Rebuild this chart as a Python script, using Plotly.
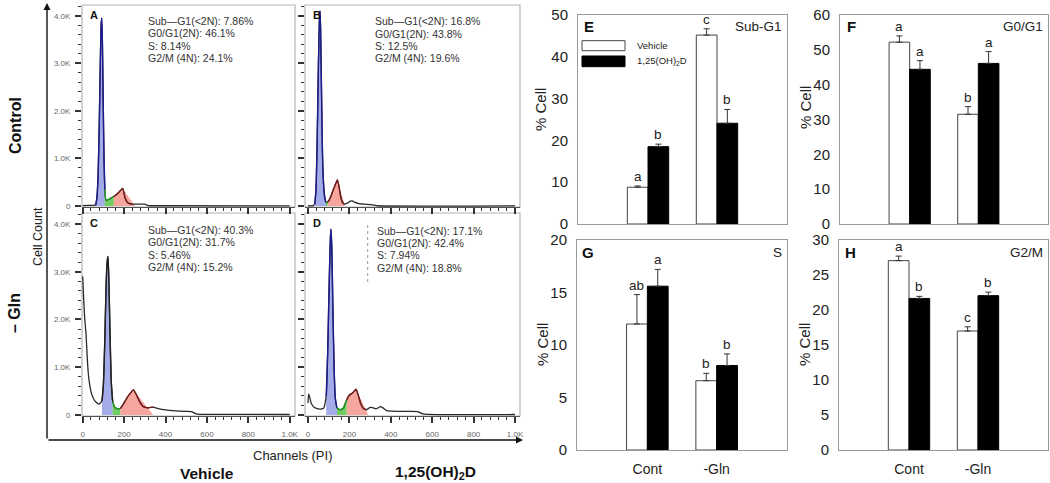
import plotly.graph_objects as go

W, H = 1050, 483
FONT = "Arial, Liberation Sans, sans-serif"

# ---------------- Flow cytometry histograms (channel, cell count) ----------------
ch_A = [0, 30, 55, 62, 68, 74, 80, 85, 89, 92, 95, 99, 103, 107, 111, 116, 130, 145, 150, 160, 175, 193, 204, 215, 225, 240, 300, 315, 350, 1000]
cnt_A = [10, 12, 15, 20, 150, 600, 1700, 3000, 3800, 3950, 3500, 2200, 1000, 350, 140, 120, 150, 190, 200, 230, 290, 370, 180, 80, 50, 40, 38, 10, 5, 3]
ch_B = [0, 25, 32, 38, 44, 50, 55, 58, 61, 65, 70, 76, 82, 87, 92, 95, 100, 110, 120, 132, 142, 150, 158, 166, 175, 190, 205, 214, 225, 245, 270, 300, 320, 335, 1000]
cnt_B = [5, 8, 40, 300, 1300, 2900, 3900, 4100, 3700, 2500, 1100, 400, 150, 80, 70, 90, 110, 200, 320, 450, 550, 400, 200, 80, 40, 60, 100, 105, 80, 50, 40, 30, 20, 5, 3]
ch_C = [0, 5, 10, 16, 22, 27, 35, 42, 55, 66, 80, 93, 100, 107, 113, 118, 122, 126, 132, 138, 145, 155, 170, 182, 195, 210, 225, 245, 260, 275, 293, 315, 340, 360, 400, 450, 500, 525, 545, 570, 700, 1000]
cnt_C = [2900, 2400, 2000, 1700, 1200, 870, 600, 455, 320, 260, 230, 300, 650, 1600, 2700, 3200, 3320, 2900, 1700, 700, 280, 160, 130, 140, 220, 330, 430, 525, 420, 280, 175, 150, 165, 140, 105, 85, 75, 70, 30, 15, 12, 10]
ch_D = [0, 3, 8, 15, 26, 40, 58, 75, 88, 95, 102, 108, 111, 115, 120, 126, 132, 140, 155, 170, 187, 200, 215, 232, 245, 256, 270, 283, 300, 312, 330, 350, 362, 380, 400, 500, 530, 550, 580, 1000]
cnt_D = [250, 440, 380, 250, 175, 140, 125, 140, 400, 1300, 2700, 3700, 3890, 3500, 2300, 1000, 350, 150, 110, 140, 320, 420, 460, 540, 380, 220, 130, 110, 160, 155, 130, 175, 150, 90, 80, 75, 70, 30, 15, 10]

# G2/M model fill (channel, count)
g2_ch_A = [150, 165, 180, 193, 223, 253]
g2_cnt_A = [200, 250, 310, 370, 185, 0]
g2_ch_B = [95, 110, 120, 132, 142, 160, 178]
g2_cnt_B = [90, 200, 320, 450, 550, 275, 0]
g2_ch_C = [182, 195, 210, 225, 245, 293, 341]
g2_cnt_C = [140, 220, 330, 430, 525, 262, 0]
g2_ch_D = [187, 200, 215, 232, 262, 291]
g2_cnt_D = [320, 420, 460, 540, 270, 0]

# gate limits (G1 start, G1 end / S start, S end)
gates_A = [62, 107, 150]
gates_B = [32, 87, 95]
gates_C = [93, 145, 182]
gates_D = [88, 140, 187]

stats_A = ["Sub\u2014G1(<2N): 7.86%", "G0/G1(2N): 46.1%", "S: 8.14%", "G2/M (4N): 24.1%"]
stats_B = ["Sub\u2014G1(<2N): 16.8%", "G0/G1(2N): 43.8%", "S: 12.5%", "G2/M (4N): 19.6%"]
stats_C = ["Sub\u2014G1(<2N): 40.3%", "G0/G1(2N): 31.7%", "S: 5.46%", "G2/M (4N): 15.2%"]
stats_D = ["Sub\u2014G1(<2N): 17.1%", "G0/G1(2N): 42.4%", "S: 7.94%", "G2/M (4N): 18.8%"]

hist_xticks = [0, 200, 400, 600, 800, 1000]
hist_xticktext = ["0", "200", "400", "600", "800", "1.0K"]
hist_yticks = [0, 1000, 2000, 3000, 4000]
hist_yticktext = ["0", "1.0K", "2.0K", "3.0K", "4.0K"]

# ---------------- Bar charts ----------------
categories = ["Cont", "-Gln"]
subg1_vehicle = [8.8, 45.2]
subg1_vehicle_err = [0.3, 1.5]
subg1_vitd = [18.5, 24.1]
subg1_vitd_err = [0.6, 3.3]
subg1_letters = [["a", "c"], ["b", "b"]]

g0g1_vehicle = [52.2, 31.5]
g0g1_vehicle_err = [1.8, 2.2]
g0g1_vitd = [44.4, 46.1]
g0g1_vitd_err = [2.5, 3.4]
g0g1_letters = [["a", "b"], ["a", "a"]]

s_vehicle = [12.0, 6.6]
s_vehicle_err = [2.8, 0.7]
s_vitd = [15.6, 8.05]
s_vitd_err = [1.6, 1.1]
s_letters = [["ab", "b"], ["a", "b"]]

g2m_vehicle = [27.05, 17.0]
g2m_vehicle_err = [0.65, 0.6]
g2m_vitd = [21.65, 22.05]
g2m_vitd_err = [0.3, 0.5]
g2m_letters = [["a", "c"], ["b", "b"]]


def fx(x):
    return x / W


def fy(y):
    return 1 - y / H


fig = go.Figure()
annotations = []
shapes = []


def ann(text, x, y, size=11, bold=False, color="#222", xanchor="center", yanchor="middle", angle=0):
    if bold:
        text = "<b>" + text + "</b>"
    annotations.append(dict(text=text, x=fx(x), y=fy(y), xref="paper", yref="paper",
                            showarrow=False, xanchor=xanchor, yanchor=yanchor, textangle=angle,
                            font=dict(family=FONT, size=size, color=color)))


def segment(xs, ys, lo, hi):
    sx, sy = [], []
    for a, b in zip(xs, ys):
        if lo <= a <= hi:
            sx.append(a)
            sy.append(b)
    return sx, sy


hist_panels = [
    ("A", ch_A, cnt_A, g2_ch_A, g2_cnt_A, gates_A, stats_A, (82, 295, 5, 207), (-3.4, 1025.6), (-21, 4225), "#1c1c8f", (146, 21)),
    ("B", ch_B, cnt_B, g2_ch_B, g2_cnt_B, gates_B, stats_B, (305, 520, 5, 207), (-14.5, 1024), (-21, 4225), "#1c1c8f", (372.7, 21.5)),
    ("C", ch_C, cnt_C, g2_ch_C, g2_cnt_C, gates_C, stats_C, (82, 295, 213, 416), (-3.4, 1025.6), (-21, 4230), "#222222", (146, 230)),
    ("D", ch_D, cnt_D, g2_ch_D, g2_cnt_D, gates_D, stats_D, (305, 520, 213, 416), (-14.5, 1024), (-21, 4230), "#1c1c8f", (375, 230.7)),
]

layout_axes = {}
for i, (lab, xs, ys, gx, gy, gates, stats, box, xr, yr, peakcol, tpos) in enumerate(hist_panels):
    n = i + 1
    xa = "x" if n == 1 else "x%d" % n
    ya = "y" if n == 1 else "y%d" % n
    g1lo, g1hi, shi = gates
    bx, by = segment(xs, ys, g1lo, g1hi)
    fig.add_trace(go.Scatter(x=bx, y=by, xaxis=xa, yaxis=ya, mode="lines", line=dict(width=0),
                             fill="tozeroy", fillcolor="rgba(140,150,228,0.8)", hoverinfo="skip"))
    sx, sy = segment(xs, ys, g1hi, shi)
    fig.add_trace(go.Scatter(x=sx, y=sy, xaxis=xa, yaxis=ya, mode="lines", line=dict(width=0),
                             fill="tozeroy", fillcolor="rgba(95,200,80,0.9)", hoverinfo="skip"))
    fig.add_trace(go.Scatter(x=gx, y=gy, xaxis=xa, yaxis=ya, mode="lines", line=dict(width=0),
                             fill="tozeroy", fillcolor="rgba(245,150,140,0.85)", hoverinfo="skip"))
    fig.add_trace(go.Scatter(x=xs, y=ys, xaxis=xa, yaxis=ya, mode="lines",
                             line=dict(color="#2a2a2a", width=1.3, shape="spline", smoothing=0.5), hoverinfo="skip"))
    fig.add_trace(go.Scatter(x=bx, y=by, xaxis=xa, yaxis=ya, mode="lines",
                             line=dict(color=peakcol, width=1.4, shape="spline", smoothing=0.5), hoverinfo="skip"))
    fig.add_trace(go.Scatter(x=sx, y=sy, xaxis=xa, yaxis=ya, mode="lines",
                             line=dict(color="#22a022", width=1.3), hoverinfo="skip"))
    rx, ry = segment(xs, ys, shi, gx[-1])
    fig.add_trace(go.Scatter(x=rx, y=ry, xaxis=xa, yaxis=ya, mode="lines",
                             line=dict(color="#7a1c1c", width=1.3, shape="spline", smoothing=0.5), hoverinfo="skip"))

    x0, x1, y0, y1 = box
    bottom = n in (3, 4)
    left = n in (1, 3)
    layout_axes["xaxis" if n == 1 else "xaxis%d" % n] = dict(
        domain=[fx(x0), fx(x1)], range=list(xr), anchor=ya, showgrid=False, zeroline=False,
        showline=True, linecolor="#555", linewidth=1, automargin=False,
        tickmode="array", tickvals=hist_xticks, ticktext=hist_xticktext,
        ticks="outside", ticklen=6, tickwidth=2, tickcolor="#333",
        showticklabels=bottom, tickfont=dict(family=FONT, size=8, color="#666"), ticklabelstandoff=4,
        minor=dict(tickmode="linear", tick0=0, dtick=40, ticks="outside", ticklen=3, tickwidth=1, tickcolor="#333"))
    layout_axes["yaxis" if n == 1 else "yaxis%d" % n] = dict(
        domain=[fy(y1), fy(y0)], range=list(yr), anchor=xa, showgrid=False, zeroline=False,
        showline=False, automargin=False,
        tickmode="array", tickvals=hist_yticks, ticktext=hist_yticktext,
        ticks="outside", ticklen=6, tickwidth=2, tickcolor="#333",
        showticklabels=left, tickfont=dict(family=FONT, size=8, color="#666"), ticklabelstandoff=3,
        minor=dict(tickmode="linear", tick0=0, dtick=200, ticks="outside", ticklen=3, tickwidth=1, tickcolor="#333"))
    shapes.append(dict(type="rect", xref="paper", yref="paper", x0=fx(x0), x1=fx(x1), y0=fy(y1), y1=fy(y0),
                       line=dict(color="#b5b5b5", width=1.2), layer="below"))
    ann(lab, x0 + 11.5, y0 + 10, size=11, bold=True, color="#111")
    for k, t in enumerate(stats):
        ann(t, tpos[0], tpos[1] + 12.3 * k, size=10.5, color="#333", xanchor="left")

shapes.append(dict(type="line", xref="paper", yref="paper", x0=fx(367.7), x1=fx(367.7), y0=fy(225), y1=fy(284),
                   line=dict(color="#999", width=1, dash="dot")))

# axis arrows
annotations.append(dict(text="", x=fx(47), y=fy(3), xref="paper", yref="paper", ax=0, ay=437,
                        showarrow=True, arrowhead=2, arrowsize=1, arrowwidth=1.4, arrowcolor="#111"))
annotations.append(dict(text="", x=fx(523), y=fy(440), xref="paper", yref="paper", ax=-476, ay=0,
                        showarrow=True, arrowhead=2, arrowsize=1, arrowwidth=1.4, arrowcolor="#111"))

ann("Control", 15, 126, size=16, bold=True, color="#111", angle=-90)
ann("\u2013 Gln", 14, 313, size=16, bold=True, color="#111", angle=-90)
ann("Cell Count", 38, 237, size=12.5, color="#222", angle=-90)
ann("Channels (PI)", 292, 455, size=13, color="#222")
ann("Vehicle", 207, 473, size=15.5, bold=True, color="#111")
ann("1,25(OH)<sub>2</sub>D", 435, 472, size=15.5, bold=True, color="#111")

bar_panels = [
    ("E", "Sub-G1", subg1_vehicle, subg1_vehicle_err, subg1_vitd, subg1_vitd_err, subg1_letters, (578, 787, 15, 224), 50, 10, False, (540, 110)),
    ("F", "G0/G1", g0g1_vehicle, g0g1_vehicle_err, g0g1_vitd, g0g1_vitd_err, g0g1_letters, (840, 1048, 15, 224), 60, 10, False, (806, 108)),
    ("G", "S", s_vehicle, s_vehicle_err, s_vitd, s_vitd_err, s_letters, (577, 787, 240, 450), 20, 5, True, (542, 345)),
    ("H", "G2/M", g2m_vehicle, g2m_vehicle_err, g2m_vitd, g2m_vitd_err, g2m_letters, (839, 1048, 240, 450), 30, 5, True, (804, 345)),
]
xpos = list(range(len(categories)))
bw = 0.3
for j, (lab, phase, veh, veh_e, vd, vd_e, letters, box, ymax, dt, showx, ttl) in enumerate(bar_panels):
    n = j + 5
    xa, ya = "x%d" % n, "y%d" % n
    fig.add_trace(go.Bar(x=xpos, y=veh, xaxis=xa, yaxis=ya, offset=-bw, width=bw, name="Vehicle",
                         marker=dict(color="white", line=dict(color="#444", width=1)),
                         error_y=dict(type="data", array=veh_e, arrayminus=[0] * len(veh), symmetric=False,
                                      color="#333", thickness=1, width=3)))
    fig.add_trace(go.Bar(x=xpos, y=vd, xaxis=xa, yaxis=ya, offset=0, width=bw, name="1,25(OH)2D",
                         marker=dict(color="black", line=dict(color="black", width=1)),
                         error_y=dict(type="data", array=vd_e, arrayminus=[0] * len(vd), symmetric=False,
                                      color="#333", thickness=1, width=3)))
    x0, x1, y0, y1 = box
    layout_axes["xaxis%d" % n] = dict(domain=[fx(x0), fx(x1)], range=[-1.015, 2.015], anchor=ya,
                                      showgrid=False, zeroline=False, showline=True, mirror=True,
                                      linecolor="#9a9a9a", linewidth=1, ticks="", automargin=False,
                                      tickmode="array", tickvals=xpos, ticktext=categories,
                                      showticklabels=showx, ticklabelstandoff=6,
                                      tickfont=dict(family=FONT, size=14, color="#222"))
    layout_axes["yaxis%d" % n] = dict(domain=[fy(y1), fy(y0)], range=[0, ymax], anchor=xa,
                                      showgrid=False, zeroline=False, showline=True, mirror=True,
                                      linecolor="#9a9a9a", linewidth=1, ticks="", dtick=dt, automargin=False,
                                      ticklabelstandoff=6, tickfont=dict(family=FONT, size=15, color="#222"))
    for c in range(len(categories)):
        for s, (vals, errs) in enumerate([(veh, veh_e), (vd, vd_e)]):
            annotations.append(dict(text=letters[s][c], x=xpos[c] + (-bw / 2 if s == 0 else bw / 2),
                                    y=vals[c] + errs[c], xref=xa, yref=ya, showarrow=False,
                                    yanchor="bottom", yshift=0,
                                    font=dict(family=FONT, size=13.5, color="#222")))
    ann(lab, x0 + 11, y0 + 12, size=15, bold=True, color="#111")
    ann(phase, x1 - 3, y0 + 12, size=13.5, color="#222", xanchor="right")
    ann("% Cell", ttl[0], ttl[1], size=15, color="#222", angle=-90)

shapes.append(dict(type="rect", xref="paper", yref="paper", x0=fx(582), x1=fx(625), y0=fy(50.7), y1=fy(40.7),
                   line=dict(color="#444", width=1), fillcolor="white"))
shapes.append(dict(type="rect", xref="paper", yref="paper", x0=fx(582), x1=fx(625), y0=fy(66.7), y1=fy(56),
                   line=dict(color="black", width=1), fillcolor="black"))
ann("Vehicle", 635, 45.5, size=9.5, color="#222", xanchor="left")
ann("1,25(OH)<sub>2</sub>D", 635, 61, size=9.5, color="#222", xanchor="left")

fig.update_layout(width=W, height=H, autosize=False, margin=dict(l=0, r=0, t=0, b=0, pad=0, autoexpand=False),
                  paper_bgcolor="white", plot_bgcolor="rgba(0,0,0,0)", showlegend=False,
                  barmode="overlay", annotations=annotations, shapes=shapes,
                  font=dict(family=FONT), **layout_axes)
fig.write_html("out.html", config={"displayModeBar": False},
               post_script="document.body.style.margin='0';document.body.style.padding='0';"
                           "document.documentElement.style.overflow='hidden';")
